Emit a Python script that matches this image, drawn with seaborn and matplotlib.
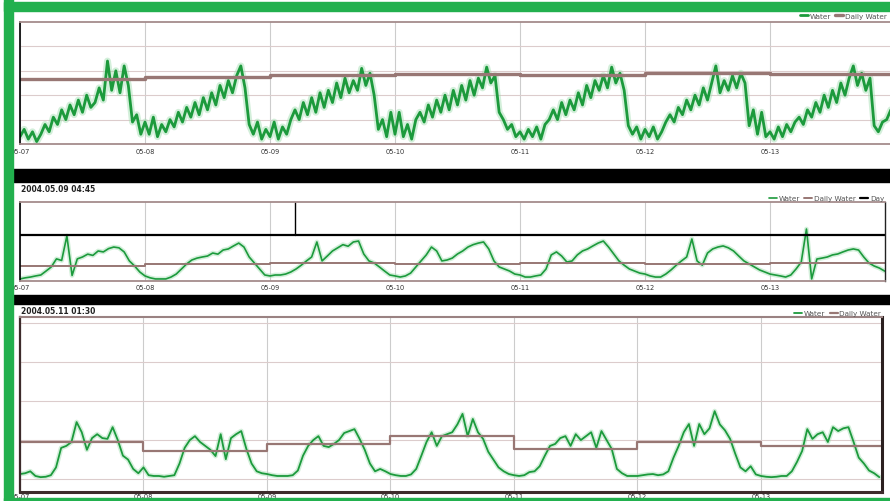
import numpy as np
import pandas as pd
import matplotlib
matplotlib.use("Agg")
import matplotlib.pyplot as plt
from matplotlib.patches import Rectangle
import seaborn as sns

# tick labels (one per day)
DAY_LABELS = ["05-07", "05-08", "05-09", "05-10", "05-11", "05-12", "05-13"]

# top panel: water, 30 samples a day
TOP_WATER = [
    0.3, 0.6, 0.2, 0.5, 0.1, 0.4, 0.8, 0.5, 1.1, 0.8, 1.4, 1.0, 1.6, 1.2, 1.8,
    1.3, 2.0, 1.5, 1.7, 2.3, 1.8, 3.4, 2.2, 3.0, 2.1, 3.2, 2.4, 0.9, 1.2, 0.4,
    0.9, 0.4, 1.1, 0.3, 0.8, 0.5, 1.0, 0.7, 1.3, 0.9, 1.5, 1.1, 1.7, 1.2, 1.9,
    1.4, 2.1, 1.6, 2.4, 1.9, 2.6, 2.1, 2.8, 3.2, 2.3, 0.8, 0.4, 0.9, 0.2, 0.6,
    0.3, 0.9, 0.2, 0.7, 0.4, 1.0, 1.4, 1.0, 1.7, 1.2, 1.9, 1.3, 2.1, 1.5, 2.2,
    1.7, 2.5, 1.9, 2.7, 2.1, 2.6, 2.2, 3.1, 2.4, 2.9, 2.0, 0.6, 1.0, 0.3, 1.3,
    0.4, 1.3, 0.3, 0.8, 0.2, 1.0, 1.3, 0.9, 1.6, 1.1, 1.8, 1.3, 2.0, 1.4, 2.2,
    1.6, 2.4, 1.8, 2.6, 2.0, 2.7, 2.3, 3.15, 2.5, 2.8, 1.3, 1.0, 0.6, 0.8, 0.3,
    0.5, 0.2, 0.6, 0.3, 0.7, 0.2, 0.8, 1.0, 1.4, 1.0, 1.7, 1.2, 1.8, 1.4, 2.1,
    1.6, 2.4, 1.9, 2.6, 2.2, 2.8, 2.3, 3.15, 2.5, 2.9, 2.2, 0.75, 0.4, 0.7, 0.2,
    0.6, 0.3, 0.7, 0.2, 0.5, 0.9, 1.2, 0.9, 1.5, 1.2, 1.8, 1.4, 2.0, 1.6, 2.3,
    1.8, 2.5, 3.2, 2.1, 2.6, 2.2, 2.8, 2.3, 2.9, 2.5, 0.75, 1.4, 0.4, 1.3, 0.3,
    0.5, 0.2, 0.7, 0.3, 0.8, 0.5, 0.9, 1.1, 0.8, 1.4, 1.1, 1.7, 1.3, 2.0, 1.5,
    2.2, 1.7, 2.5, 2.0, 2.7, 3.2, 2.4, 2.9, 2.2, 2.7, 0.75, 0.5, 0.9, 1.0, 1.4,
]
TOP_DAILY = [2.66, 2.75, 2.81, 2.85, 2.83, 2.89, 2.87]

# middle panel: hourly water, daily water and the "Day" line
MID_WATER = [
    0.13, 0.2, 0.25, 0.32, 0.38, 0.63, 0.89, 1.4, 1.3, 2.85, 0.35, 1.4,
    1.52, 1.7, 1.62, 1.9, 1.84, 2.05, 2.15, 2.1, 1.84, 1.27, 0.95, 0.57,
    0.32, 0.2, 0.13, 0.13, 0.13, 0.25, 0.44, 0.76, 1.08, 1.33, 1.45, 1.52,
    1.58, 1.77, 1.7, 1.96, 2.03, 2.22, 2.4, 2.15, 1.52, 1.14, 0.76, 0.38,
    0.32, 0.38, 0.38, 0.44, 0.57, 0.76, 1.0, 1.27, 1.52, 2.47, 1.27, 1.58,
    1.9, 2.1, 2.3, 2.2, 2.47, 2.53, 1.71, 1.27, 1.14, 0.89, 0.63, 0.38,
    0.32, 0.25, 0.32, 0.5, 0.89, 1.27, 1.65, 2.15, 1.9, 1.27, 1.33, 1.45,
    1.71, 1.9, 2.15, 2.3, 2.4, 2.47, 2.03, 1.27, 0.89, 0.76, 0.63, 0.44,
    0.38, 0.25, 0.25, 0.32, 0.38, 0.76, 1.65, 1.84, 1.58, 1.2, 1.27, 1.65,
    1.9, 2.03, 2.22, 2.4, 2.53, 2.15, 1.71, 1.27, 1.0, 0.76, 0.63, 0.5,
    0.44, 0.32, 0.25, 0.25, 0.44, 0.7, 1.0, 1.27, 1.52, 2.66, 1.27, 1.0,
    1.77, 2.03, 2.15, 2.22, 2.1, 1.9, 1.58, 1.27, 1.08, 0.89, 0.7, 0.57,
    0.44, 0.38, 0.32, 0.25, 0.38, 0.76, 1.2, 3.29, 0.13, 1.39, 1.45, 1.52,
    1.65, 1.71, 1.84, 1.96, 2.03, 1.96, 1.52, 1.14, 0.95, 0.82, 0.63,
]
MID_DAILY = [0.95, 1.1, 1.12, 1.1, 1.12, 1.1, 1.12]
MID_DAY = [2.9, 2.9, 2.9, 2.9, 2.9, 2.9, 2.9]
MID_STAMP = "2004.05.09 04:45"

# bottom panel: hourly water and daily water
BOT_WATER = [
    0.13, 0.15, 0.2, 0.08, 0.05, 0.06, 0.1, 0.3, 0.8, 0.85, 0.95, 1.46,
    1.2, 0.75, 1.05, 1.15, 1.05, 1.03, 1.33, 1.0, 0.6, 0.5, 0.26, 0.15,
    0.3, 0.1, 0.08, 0.08, 0.06, 0.08, 0.1, 0.4, 0.8, 1.0, 1.1, 0.95,
    0.85, 0.75, 0.59, 1.15, 0.51, 1.05, 1.15, 1.23, 0.77, 0.4, 0.2, 0.15,
    0.13, 0.1, 0.08, 0.08, 0.08, 0.1, 0.22, 0.6, 0.85, 1.0, 1.1, 0.85,
    0.82, 0.9, 1.0, 1.18, 1.23, 1.28, 1.03, 0.75, 0.4, 0.2, 0.26, 0.2,
    0.13, 0.1, 0.08, 0.08, 0.12, 0.26, 0.6, 0.95, 1.2, 0.85, 1.1, 1.15,
    1.2, 1.4, 1.67, 1.1, 1.54, 1.2, 1.03, 0.7, 0.5, 0.3, 0.2, 0.13,
    0.1, 0.08, 0.1, 0.18, 0.2, 0.33, 0.6, 0.85, 0.9, 1.05, 1.1, 0.85,
    1.15, 1.0, 1.1, 1.2, 0.8, 1.23, 1.0, 0.77, 0.26, 0.15, 0.08, 0.08,
    0.08, 0.1, 0.12, 0.13, 0.1, 0.12, 0.2, 0.55, 0.85, 1.2, 1.41, 0.85,
    1.41, 1.15, 1.3, 1.74, 1.4, 1.25, 1.03, 0.65, 0.3, 0.2, 0.33, 0.12,
    0.08, 0.06, 0.05, 0.06, 0.08, 0.08, 0.2, 0.44, 0.72, 1.28, 1.03, 1.15,
    1.2, 0.95, 1.33, 1.23, 1.3, 1.33, 0.95, 0.55, 0.4, 0.22, 0.15, 0.05,
]
BOT_DAILY = [0.95, 0.72, 0.9, 1.1, 0.77, 0.95, 0.85]
BOT_STAMP = "2004.05.11 01:30"

GREEN = "#1c9a3c"
HALO = "#9fdcae"
BROWN = "#987774"
FRAME = "#22b04e"

sns.set_theme(style="white")
plt.rcParams["font.family"] = ["DejaVu Sans"]

W, H = 890, 502
fig = plt.figure(figsize=(W / 100, H / 100), dpi=100, facecolor="white")


def px_axes(left, top, right, bottom):
    return fig.add_axes([left / W, 1 - bottom / H, (right - left) / W, (bottom - top) / H])


def water_frame(values, per_day):
    return pd.DataFrame({"t": np.arange(len(values)) / per_day, "v": values})


def step_frame(values):
    return pd.DataFrame({"t": np.arange(len(values) + 1), "v": values + values[-1:]})


def draw_water(ax, values, per_day, lw, halo):
    df = water_frame(values, per_day)
    sns.lineplot(data=df, x="t", y="v", ax=ax, color=HALO, lw=lw + halo, alpha=0.45,
                 estimator=None, sort=False)
    sns.lineplot(data=df, x="t", y="v", ax=ax, color=GREEN, lw=lw,
                 estimator=None, sort=False, label="Water")


def draw_step(ax, values, color, lw, label):
    sns.lineplot(data=step_frame(values), x="t", y="v", ax=ax, color=color, lw=lw,
                 drawstyle="steps-post", estimator=None, sort=False, label=label)


def style_axes(ax, xmax, ylim, yticks, label_pad):
    ax.set_xlim(0, xmax)
    ax.set_ylim(*ylim)
    ax.set_xticks(range(7))
    ax.set_xticklabels(DAY_LABELS)
    ax.set_yticks(yticks)
    ax.set_yticklabels([])
    ax.set_xlabel("")
    ax.set_ylabel("")
    ax.tick_params(axis="both", length=0)
    ax.tick_params(axis="x", labelsize=4.8, pad=label_pad, colors="#333333")
    ax.grid(axis="x", color="#cccccc", lw=0.8)
    ax.grid(axis="y", color="#dccccc", lw=0.8)
    ax.set_facecolor("white")


def legend(ax, x_anchor, y_anchor):
    leg = ax.legend(loc="lower right", bbox_to_anchor=(x_anchor, y_anchor), ncol=3,
                    frameon=False, fontsize=5.2, handlelength=1.1, handletextpad=0.25,
                    columnspacing=0.6, borderpad=0, borderaxespad=0.1)
    for txt in leg.get_texts():
        txt.set_color("#555555")


# --- top panel
ax1 = px_axes(20, 23, 890, 145)
draw_water(ax1, TOP_WATER, 30, 2.0, 3.0)
draw_step(ax1, TOP_DAILY, BROWN, 2.4, "Daily Water")
style_axes(ax1, 6.96, (0, 5), [1, 2, 3, 4], 3)
ax1.spines["left"].set_color("black")
ax1.spines["left"].set_lw(1.2)
ax1.spines["right"].set_visible(False)
for side in ["top", "bottom"]:
    ax1.spines[side].set_color("#a58c8c")
    ax1.spines[side].set_lw(1.3)
    ax1.spines[side].set_linestyle((0, (3, 1)))
legend(ax1, 0.997, 1.02)

# --- middle panel
ax2 = px_axes(20, 203, 885, 282)
draw_water(ax2, MID_WATER, 24, 1.2, 2.2)
draw_step(ax2, MID_DAILY, BROWN, 1.4, "Daily Water")
draw_step(ax2, MID_DAY, "black", 1.6, "Day")
style_axes(ax2, 6.92, (0, 5), [], 2)
stamp = pd.Timestamp(MID_STAMP.replace(".", "-", 2))
cursor = (stamp - pd.Timestamp("2004-05-07")) / pd.Timedelta(days=1)
ax2.axvline(cursor, ymin=MID_DAY[0] / 5, ymax=1, color="black", lw=1)
ax2.spines["left"].set_color("black")
ax2.spines["left"].set_lw(1.2)
ax2.spines["right"].set_color("#222222")
ax2.spines["right"].set_lw(1.0)
for side in ["top", "bottom"]:
    ax2.spines[side].set_color("#a58c8c")
    ax2.spines[side].set_lw(1.3)
    ax2.spines[side].set_linestyle((0, (3, 1)))
legend(ax2, 1.0, 1.0)

# --- bottom panel
ax3 = px_axes(20, 318, 882, 493)
draw_water(ax3, BOT_WATER, 24, 1.3, 2.2)
draw_step(ax3, BOT_DAILY, BROWN, 1.6, "Daily Water")
style_axes(ax3, 6.98, (-0.33, 4.15), [0, 1, 2, 3, 4], 1)
ax3.spines["left"].set_color("#3d2b2b")
ax3.spines["left"].set_lw(1.6)
ax3.spines["right"].set_color("#2b2020")
ax3.spines["right"].set_lw(2.2)
ax3.spines["bottom"].set_color("#3d2b2b")
ax3.spines["bottom"].set_lw(2.2)
ax3.spines["top"].set_color("#9a8282")
ax3.spines["top"].set_lw(1.5)
legend(ax3, 1.0, 1.0)

# panel time stamps
fig.text(21 / W, 1 - 190 / H, MID_STAMP, fontsize=5.5, fontweight="bold", va="center", color="#222222")
fig.text(21 / W, 1 - 311 / H, BOT_STAMP, fontsize=5.5, fontweight="bold", va="center", color="#222222")

# black separators and green frame
for top, bottom in [(170, 183), (296, 305)]:
    fig.add_artist(Rectangle((13 / W, 1 - bottom / H), 1, (bottom - top) / H,
                             transform=fig.transFigure, color="black", zorder=5))
fig.add_artist(Rectangle((4 / W, 0), 9 / W, 1, transform=fig.transFigure, color=FRAME, zorder=6))
fig.add_artist(Rectangle((4 / W, 1 - 12 / H), 1, 9 / H, transform=fig.transFigure, color=FRAME, zorder=6))
fig.add_artist(Rectangle((4 / W, 0), 1, 3 / H, transform=fig.transFigure, color=FRAME, zorder=6))

fig.savefig("out.png", dpi=100, facecolor="white")
